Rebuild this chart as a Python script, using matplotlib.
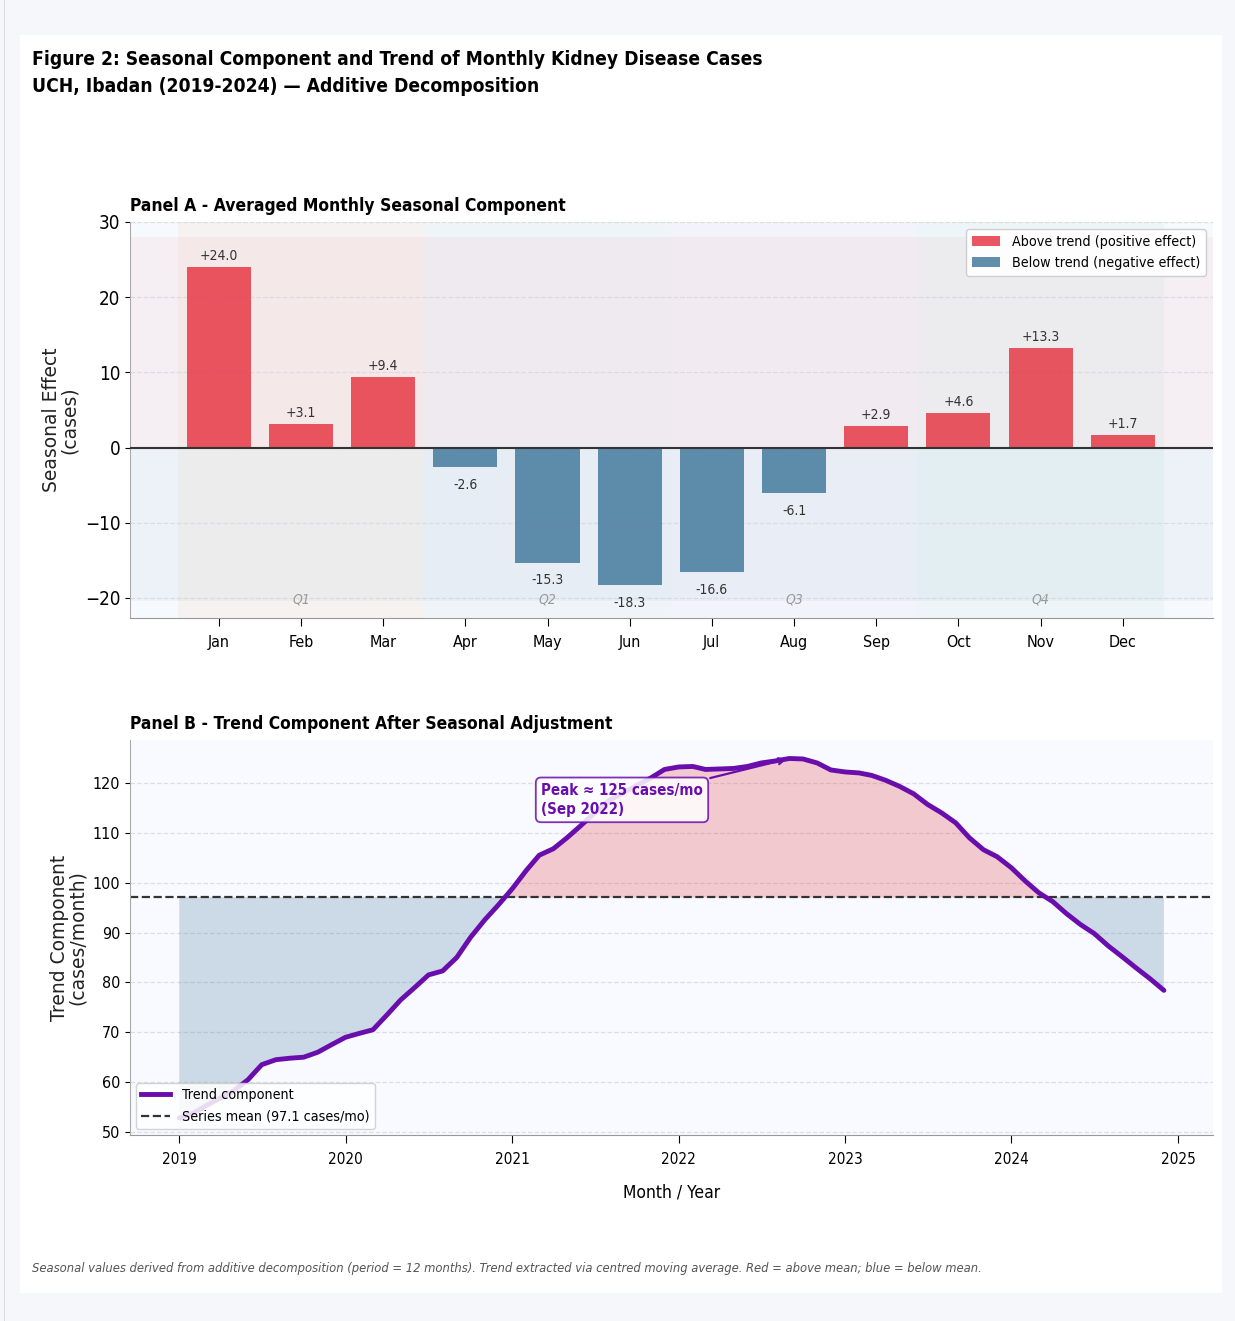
import matplotlib
matplotlib.use('Agg')
import matplotlib.pyplot as plt
import matplotlib.dates as mdates
from matplotlib.patches import Patch, Rectangle
from matplotlib.lines import Line2D
import numpy as np
import pandas as pd

plt.rcParams['font.family'] = ['DejaVu Sans']
plt.rcParams['font.stretch'] = 'condensed'

# ---- data ----
months = ['Jan', 'Feb', 'Mar', 'Apr', 'May', 'Jun', 'Jul', 'Aug', 'Sep', 'Oct', 'Nov', 'Dec']
seasonal = [24.0, 3.1, 9.4, -2.6, -15.3, -18.3, -16.6, -6.1, 2.9, 4.6, 13.3, 1.7]
quarters = ['Q1', 'Q2', 'Q3', 'Q4']

trend = [52.8, 53.8, 55.3, 56.8, 58.3, 60.5, 63.5, 64.5, 64.8, 65.0, 66.0, 67.5,
         69.0, 69.8, 70.5, 73.5, 76.5, 79.0, 81.5, 82.3, 85.0, 89.0, 92.5, 95.5,
         98.8, 102.5, 105.5, 106.8, 109.0, 111.5, 114.0, 116.5, 118.0, 119.5, 121.0, 122.7,
         123.2, 123.3, 122.7, 122.8, 122.9, 123.3, 124.0, 124.4, 124.9, 124.8, 124.0, 122.6,
         122.2, 122.0, 121.5, 120.5, 119.3, 117.8, 115.7, 114.0, 112.0, 109.0, 106.6, 105.2,
         103.0, 100.3, 98.0, 96.2, 93.8, 91.6, 89.8, 87.3, 85.1, 82.9, 80.7, 78.4]
dates = pd.date_range('2019-01-01', periods=len(trend), freq='MS')
series_mean = 97.1

RED = '#e63946'
BLUE = '#457b9d'
PURPLE = '#6a0dad'

fig = plt.figure(figsize=(12.35, 13.21), dpi=100, facecolor='#f6f7fa')
fig.patches.append(Rectangle((20 / 1235, 28 / 1321), 1202 / 1235, 1258 / 1321,
                             transform=fig.transFigure, facecolor='white', edgecolor='none', zorder=-10))
fig.patches.append(Rectangle((4 / 1235, 0), 1 / 1235, 1, transform=fig.transFigure,
                             facecolor='#dcdde3', edgecolor='none', zorder=-9))

fig.text(0.026, 0.962, 'Figure 2: Seasonal Component and Trend of Monthly Kidney Disease Cases\n'
         'UCH, Ibadan (2019-2024) \u2014 Additive Decomposition',
         fontsize=13.8, fontweight='bold', va='top', ha='left', linespacing=1.5)

# ---- Panel A ----
ax1 = fig.add_axes([0.1053, 0.532, 0.877, 0.300])
ax1.set_facecolor('#f6f9fd')
x = np.arange(len(months))
ax1.axhspan(0, 28, color=RED, alpha=0.05, lw=0, zorder=0)
ax1.axhspan(-20.4, 0, color=BLUE, alpha=0.05, lw=0, zorder=0)
qcols = ['#f4a261', '#8da9c4', '#c9a0dc', '#2a9d8f']
qalph = [0.07, 0.06, 0.06, 0.045]
for qi in range(4):
    ax1.axvspan(qi * 3 - 0.5, qi * 3 + 2.5, color=qcols[qi], alpha=qalph[qi], lw=0, zorder=0)
    ax1.text(qi * 3 + 1, -20.2, quarters[qi], ha='center', va='center', fontsize=10,
             style='italic', color='#999999', zorder=1)

cols = [RED if v >= 0 else BLUE for v in seasonal]
ax1.bar(x, seasonal, width=0.78, color=cols, alpha=0.85, zorder=3)
for xi, v in zip(x, seasonal):
    if v >= 0:
        ax1.text(xi, v + 0.5, f'+{v:.1f}', ha='center', va='bottom', fontsize=10, color='#333333', zorder=4)
    else:
        ax1.text(xi, v - 1.4, f'{v:.1f}', ha='center', va='top', fontsize=10, color='#333333', zorder=4)
ax1.axhline(0, color='#333333', lw=1.5, zorder=4)
ax1.set_xlim(-1.08, 12.1)
ax1.set_ylim(-22.7, 30)
ax1.set_xticks(x)
ax1.set_xticklabels(months)
ax1.set_yticks([-20, -10, 0, 10, 20, 30])
ax1.tick_params(axis='y', labelsize=13.5)
ax1.tick_params(axis='x', labelsize=11.5, length=6, pad=6)
ax1.grid(axis='y', ls='--', color='#d5d8de', lw=0.9, alpha=0.8, zorder=0)
ax1.set_axisbelow(True)
for s in ['top', 'right']:
    ax1.spines[s].set_visible(False)
ax1.spines['left'].set_color('#aaaaaa')
ax1.spines['bottom'].set_color('#999999')
ax1.set_ylabel('Seasonal Effect\n(cases)', fontsize=13.5, stretch='normal', linespacing=0.95,
               color='#222222')
ax1.set_title('Panel A - Averaged Monthly Seasonal Component', loc='left', fontsize=12.5,
              fontweight='bold', pad=8)
ax1.legend(handles=[Patch(facecolor=RED, alpha=0.85, label='Above trend (positive effect)'),
                    Patch(facecolor=BLUE, alpha=0.85, label='Below trend (negative effect)')],
           loc='upper right', fontsize=10.3, framealpha=0.95, edgecolor='#cccccc',
           borderaxespad=0.5, handlelength=2.0, fancybox=True)

# ---- Panel B ----
ax2 = fig.add_axes([0.1053, 0.1408, 0.877, 0.299])
ax2.set_facecolor('#f8faff')
tr = np.array(trend)
ax2.fill_between(dates, tr, series_mean, where=tr >= series_mean, interpolate=True,
                 color=RED, alpha=0.25, lw=0, zorder=1)
ax2.fill_between(dates, tr, series_mean, where=tr < series_mean, interpolate=True,
                 color=BLUE, alpha=0.25, lw=0, zorder=1)
ax2.plot(dates, tr, color=PURPLE, lw=3.5, zorder=3, solid_capstyle='round')
ax2.axhline(series_mean, color='#333333', ls='--', lw=1.6, zorder=2)
pk = int(np.argmax(tr))
ax2.annotate(f'Peak \u2248 {round(tr[pk]):.0f} cases/mo\n({dates[pk]:%b %Y})',
             xy=(dates[pk], tr[pk]), xytext=(pd.Timestamp('2021-03-05'), 116.6),
             ha='left', va='center', fontsize=10.8, fontweight='bold', color=PURPLE,
             linespacing=1.35,
             bbox=dict(boxstyle='round,pad=0.35', fc='white', ec=PURPLE, alpha=0.85, lw=1.3),
             arrowprops=dict(arrowstyle='->', color=PURPLE, lw=1.6), zorder=5)
ax2.set_ylim(49.4, 128.6)
ax2.set_yticks([50, 60, 70, 80, 90, 100, 110, 120])
ax2.xaxis.set_major_locator(mdates.YearLocator())
ax2.xaxis.set_major_formatter(mdates.DateFormatter('%Y'))
ax2.tick_params(axis='y', labelsize=11.5)
ax2.tick_params(axis='x', labelsize=11, length=6, pad=6)
ax2.grid(axis='y', ls='--', color='#d5d8de', lw=0.9, alpha=0.8, zorder=0)
ax2.set_axisbelow(True)
for s in ['top', 'right']:
    ax2.spines[s].set_visible(False)
ax2.spines['left'].set_color('#aaaaaa')
ax2.spines['bottom'].set_color('#999999')
ax2.set_ylabel('Trend Component\n(cases/month)', fontsize=13.5, stretch='normal', linespacing=0.95,
               color='#222222')
ax2.set_xlabel('Month / Year', fontsize=12.5, labelpad=12)
ax2.set_title('Panel B - Trend Component After Seasonal Adjustment', loc='left', fontsize=12.5,
              fontweight='bold', pad=8)
ax2.legend(handles=[Line2D([0], [0], color=PURPLE, lw=3.5, label='Trend component'),
                    Line2D([0], [0], color='#333333', lw=1.6, ls='--',
                           label=f'Series mean ({series_mean:.1f} cases/mo)')],
           loc='lower left', fontsize=10.3, framealpha=0.85, edgecolor='#cccccc', borderaxespad=0.4)

fig.text(0.026, 0.040, 'Seasonal values derived from additive decomposition (period = 12 months). '
         'Trend extracted via centred moving average. Red = above mean; blue = below mean.',
         fontsize=9.3, style='italic', color='#555555', ha='left', va='center')

fig.savefig('out.png', dpi=100, facecolor=fig.get_facecolor())
